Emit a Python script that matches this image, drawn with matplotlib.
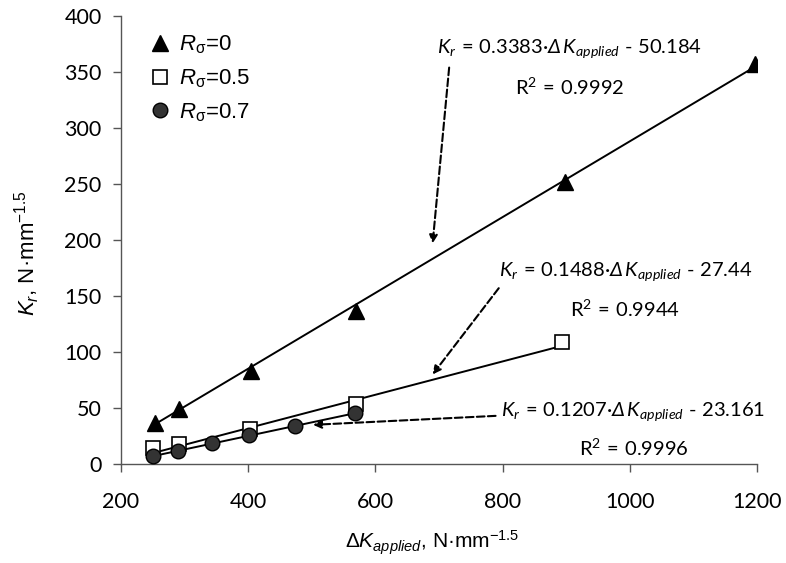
import matplotlib
matplotlib.use("Agg")
import matplotlib.pyplot as plt
import numpy as np

# data
x_r0 = [253, 291, 405, 570, 898, 1197]
y_r0 = [37, 49, 83, 137, 252, 357]
x_r05 = [250, 291, 403, 569, 894]
y_r05 = [14, 18, 31, 54, 109]
x_r07 = [250, 290, 343, 401, 474, 568]
y_r07 = [7.5, 12, 19, 26, 34, 46]

# trendline coefficients (slope, intercept) as printed on the chart
fit_r0 = (0.3383, -50.184)
fit_r05 = (0.1488, -27.44)
fit_r07 = (0.1207, -23.161)

plt.rcParams['font.family'] = ['Liberation Sans', 'DejaVu Sans']
plt.rcParams['mathtext.fontset'] = 'custom'
plt.rcParams['mathtext.rm'] = 'Liberation Sans'
plt.rcParams['mathtext.it'] = 'Liberation Sans:italic'
plt.rcParams['mathtext.sf'] = 'Lato'
plt.rcParams['mathtext.bf'] = 'Lato:italic'

fig = plt.figure(figsize=(7.86, 5.63), dpi=100)
ax = fig.add_axes([0.154, 0.1758, 0.809, 0.7957])

# trendlines from first to last point of each series
for xs, (k, b) in [(x_r0, fit_r0), (x_r05, fit_r05), (x_r07, fit_r07)]:
    xx = np.array([min(xs), max(xs)])
    ax.plot(xx, k * xx + b, color='black', lw=1.4, zorder=2)

ax.plot(x_r0, y_r0, ls='none', marker='^', ms=11, color='black',
        label=r'$R_{\mathrm{σ}}$=0', zorder=3)
ax.plot(x_r05, y_r05, ls='none', marker='s', ms=9.5, mfc='white', mec='black',
        mew=1.2, label=r'$R_{\mathrm{σ}}$=0.5', zorder=3)
ax.plot(x_r07, y_r07, ls='none', marker='o', ms=10.5, mfc='#333333', mec='black',
        mew=1.0, label=r'$R_{\mathrm{σ}}$=0.7', zorder=3)

ax.set_xlim(200, 1200)
ax.set_ylim(0, 400)
ax.set_xticks(np.arange(200, 1201, 200))
ax.set_yticks(np.arange(0, 401, 50))

for s in ['top', 'right']:
    ax.spines[s].set_visible(False)
for s in ['left', 'bottom']:
    ax.spines[s].set_color('#555555')
    ax.spines[s].set_linewidth(1.0)
ax.tick_params(direction='out', length=6, width=1.0, color='#555555',
               labelsize=15.5)
ax.tick_params(axis='x', pad=14)
ax.tick_params(axis='y', pad=8)
for lab in ax.get_xticklabels() + ax.get_yticklabels():
    lab.set_fontfamily('Lato')

ax.set_xlabel(r'$\mathrm{Δ}K_{applied}$, N·mm$^{-1.5}$', fontsize=15)
ax.xaxis.set_label_coords(0.489, -0.145)
ax.set_ylabel(r'$K_r$, N·mm$^{-1.5}$', fontsize=16)
ax.yaxis.set_label_coords(-0.125, 0.47)

ax.legend(loc='upper left', bbox_to_anchor=(0.009, 1.005), frameon=False,
          fontsize=16, labelspacing=0.5, handletextpad=0.25, handlelength=1.2)

# equations and arrows
def eq(slope, icpt):
    return (r'$\mathbf{K}_{\mathbf{r}}\mathsf{\,=\,' + slope + r'·}\mathbf{Δ\,K}_{\mathbf{applied}}'
            r'\mathsf{\ ‐\ ' + icpt + '}$')

ax.text(905, 370, eq('0.3383', '50.184'), fontsize=14.5, ha='center', va='center')
ax.text(905, 336, r'$\mathsf{R^2\,=\,0.9992}$', fontsize=14.5, ha='center', va='center')
ax.text(993, 171, eq('0.1488', '27.44'), fontsize=14.5, ha='center', va='center')
ax.text(993, 137, r'$\mathsf{R^2\,=\,0.9944}$', fontsize=14.5, ha='center', va='center')
ax.text(1006, 46, eq('0.1207', '23.161'), fontsize=14.5, ha='center', va='center')
ax.text(1006, 13, r'$\mathsf{R^2\,=\,0.9996}$', fontsize=14.5, ha='center', va='center')

arrows = [((716, 354), (690, 197)), ((794, 157), (690, 80)), ((789, 43), (502, 35))]
for tail, head in arrows:
    ax.annotate('', xy=head, xytext=tail,
                arrowprops=dict(arrowstyle='-|>', ls='--', lw=1.5, color='black',
                                mutation_scale=12, shrinkA=0, shrinkB=0))

fig.savefig('out.png', dpi=100)
